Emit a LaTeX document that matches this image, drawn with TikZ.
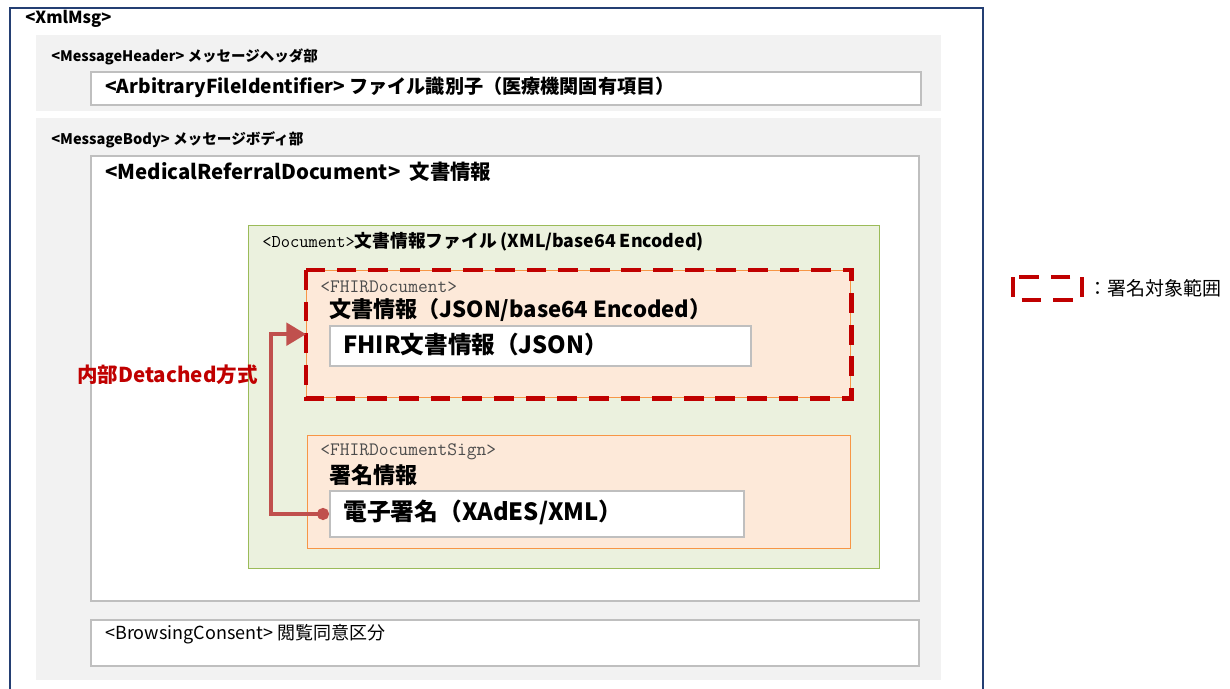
\documentclass[tikz,border=0pt]{standalone}
\usepackage{fontspec}
\setmainfont{Noto Sans CJK JP}
\usetikzlibrary{arrows.meta}

\definecolor{framenavy}{HTML}{243F73}
\definecolor{panelgray}{HTML}{F2F2F2}
\definecolor{fieldgray}{HTML}{BFBFBF}
\definecolor{docgreen}{HTML}{EBF1DE}
\definecolor{docgreenline}{HTML}{9BBB59}
\definecolor{fhirpeach}{HTML}{FDE9D9}
\definecolor{fhirorange}{HTML}{F79646}
\definecolor{signred}{HTML}{C00000}
\definecolor{linkred}{HTML}{C0504D}

\def\px{0.025cm}

\begin{document}
\begin{tikzpicture}[x=\px,y=-\px]
    \tikzstyle{panel}=[fill=panelgray,anchor=north west,inner sep=0pt]
    \tikzstyle{field}=[fill=white,draw=fieldgray,line width=1.4pt,anchor=north west,inner sep=0pt]
    \tikzstyle{docbox}=[fill=docgreen,draw=docgreenline,line width=1pt,anchor=north west,inner sep=0pt]
    \tikzstyle{fhirbox}=[fill=fhirpeach,draw=fhirorange,line width=1pt,anchor=north west,inner sep=0pt]
    \tikzstyle{sigrange}=[draw=signred,line width=3.5pt,dash pattern=on 14pt off 8.5pt]
    \tikzstyle{lbl}=[anchor=west,inner sep=0pt]
    \tikzstyle{tag}=[lbl,text=black!70,font=\ttfamily\fontsize{13.5}{14}\selectfont]
    \tikzstyle{link}=[draw=linkred,line width=2.8pt,{Circle[length=8.5pt]}-{Triangle[length=14pt,width=16pt]}]

    \useasboundingbox (0,0) rectangle (1230,689);

    % Draw the outer XmlMsg frame
    \draw[framenavy,line width=1.6pt] (10,689) -- (10,8) -- (983,8) -- (983,689);
    \node[lbl] (xmlmsg) at (25,19) {\fontsize{11.8}{13}\selectfont\bfseries <XmlMsg>};

    % Header part
    \node[panel,minimum width=905*\px,minimum height=76*\px] (header) at (36,35) {};
    \node[lbl] (header-lbl) at (51,57) {\fontsize{10.3}{12}\selectfont\bfseries <MessageHeader> メッセージヘッダ部};
    \node[field,minimum width=830*\px,minimum height=33*\px] (fileid) at (90,71) {};
    \node[lbl] (fileid-lbl) at (105,87) {\fontsize{13.6}{15}\selectfont\bfseries <ArbitraryFileIdentifier> ファイル識別子（医療機関固有項目）};

    % Body part
    \node[panel,minimum width=905*\px,minimum height=562*\px] (body) at (36,118) {};
    \node[lbl] (body-lbl) at (51,140) {\fontsize{10.4}{12}\selectfont\bfseries <MessageBody> メッセージボディ部};
    \node[field,minimum width=828*\px,minimum height=445*\px] (referral) at (90,155) {};
    \node[lbl] (referral-lbl) at (105,172) {\fontsize{14.5}{16}\selectfont\bfseries <MedicalReferralDocument>\ \ 文書情報};

    % Document file inside the referral document
    \node[docbox,minimum width=631*\px,minimum height=343*\px] (document) at (248,225) {};
    \node[lbl] (document-lbl) at (262,242) {\fontsize{12.6}{14}\selectfont\bfseries{\ttfamily\mdseries\fontsize{12.8}{14}\selectfont <Document>}文書情報ファイル (XML/base64 Encoded)};

    % FHIR document (signature target)
    \node[fhirbox,minimum width=544*\px,minimum height=127*\px] (fhir) at (306,270) {};
    \draw[sigrange] (fhir.north west) rectangle (fhir.south east);
    \node[tag] (fhir-tag) at (320,287) {<FHIRDocument>};
    \node[lbl] (fhir-lbl) at (329,310) {\fontsize{15.7}{17}\selectfont\bfseries 文書情報（JSON/base64 Encoded）};
    \node[field,minimum width=421*\px,minimum height=40*\px] (fhirjson) at (329,325) {};
    \node[lbl] (fhirjson-lbl) at (343,345) {\fontsize{16.8}{18}\selectfont\bfseries FHIR文書情報（JSON）};

    % FHIR document signature
    \node[fhirbox,minimum width=543*\px,minimum height=113*\px] (sign) at (307,435) {};
    \node[tag] (sign-tag) at (320,452) {<FHIRDocumentSign>};
    \node[lbl] (sign-lbl) at (329,475) {\fontsize{15.7}{17}\selectfont\bfseries 署名情報};
    \node[field,minimum width=414*\px,minimum height=46*\px] (sigval) at (329,490) {};
    \node[lbl] (sigval-lbl) at (343,512) {\fontsize{16.9}{18}\selectfont\bfseries 電子署名（XAdES/XML）};

    % Browsing consent
    \node[field,minimum width=828*\px,minimum height=46*\px] (consent) at (90,619) {};
    \node[lbl] (consent-lbl) at (105,634) {\fontsize{12.8}{14}\selectfont <BrowsingConsent> 閲覧同意区分};

    % Connect the signature with the signed document
    \path[link] (sigval.west) -- ++(-58,0) |- (fhir.west);
    \node[lbl,text=signred] (detached) at (77,375) {\fontsize{14.6}{16}\selectfont\bfseries 内部Detached方式};

    % Legend
    \coordinate (legend-nw) at (1013,277);
    \coordinate (legend-se) at (1082,300);
    \draw[sigrange] (legend-nw) rectangle (legend-se);
    \node[lbl] (legend-lbl) at (1088,288) {\fontsize{13.5}{15}\selectfont ：署名対象範囲};
\end{tikzpicture}
\end{document}
